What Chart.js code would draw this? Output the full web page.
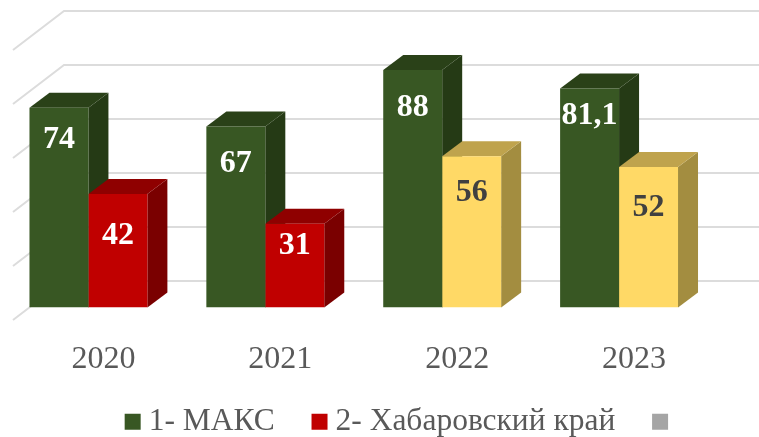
<!DOCTYPE html>
<html>
<head>
<meta charset="utf-8">
<style>
  html, body { margin: 0; padding: 0; background: #fff; }
  canvas { display: block; }
</style>
<script src="https://cdn.jsdelivr.net/npm/chart.js@4"></script>
</head>
<body>
<canvas id="chart" width="759" height="437"></canvas>
<script>
var years = ['2020', '2021', '2022', '2023'];
var maks = [74, 67, 88, 81.1];
var khabarovsk = [42, 31, 56, 52];
var maksName = '1- МАКС';
var khabarovskName = '2- Хабаровский край';

// how far each value label sits below the top of its bar (the source labels were moved by hand)
var maksLabelDrop = [32, 37, 38, 27];
var khabarovskLabelDrop = [42, 22, 36, 41];

var green = { front: '#385723', top: '#2A4118', side: '#253A15' };
var red = { front: '#C00000', top: '#8F0000', side: '#7A0000' };
var yellow = { front: '#FFD966', top: '#BFA34D', side: '#A38D40' };
var maksFaces = [green, green, green, green];
var khabarovskFaces = [red, red, yellow, yellow];

var serif = '"Liberation Serif", "Times New Roman", serif';

// 3d look: back wall lines + bar sides, all taken from the chart's own scales
var box3d = {
    id: 'box3d',
    afterLayout: function (chart) {
        // tick labels hang below the axis box, legend sits lower and further right than its default
        chart.scales.x.bottom = 385;
        chart.legend.top += 10.5;
        chart.legend.left += 50.5;
        chart.legend.right += 50.5;
    },
    beforeDatasetsDraw: function (chart) {
        var ctx = chart.ctx;
        var yScale = chart.scales.y;
        ctx.save();
        ctx.strokeStyle = '#DCDCDC';
        ctx.lineWidth = 2;
        yScale.ticks.forEach(function (tick) {
            var y = yScale.getPixelForValue(tick.value);
            ctx.beginPath();
            ctx.moveTo(13, y + 12.5);
            ctx.lineTo(64, y - 26.5);
            ctx.lineTo(chart.width, y - 26.5);
            ctx.stroke();
        });
        [maksFaces, khabarovskFaces].forEach(function (faces, d) {
            chart.getDatasetMeta(d).data.forEach(function (bar, i) {
                var left = bar.x - bar.width / 2;
                var right = bar.x + bar.width / 2;
                ctx.fillStyle = faces[i].side;
                polygon(ctx, [[right, bar.y], [right + 20, bar.y - 15], [right + 20, bar.base - 15], [right, bar.base]]);
                ctx.fillStyle = faces[i].top;
                polygon(ctx, [[left, bar.y], [left + 20, bar.y - 15], [right + 20, bar.y - 15], [right, bar.y]]);
            });
        });
        ctx.restore();
    },
    afterDatasetsDraw: function (chart) {
        var ctx = chart.ctx;
        ctx.save();
        ctx.font = 'bold 32px ' + serif;
        ctx.textAlign = 'center';
        ctx.textBaseline = 'middle';
        [[maks, maksLabelDrop], [khabarovsk, khabarovskLabelDrop]].forEach(function (set, d) {
            chart.getDatasetMeta(d).data.forEach(function (bar, i) {
                ctx.fillStyle = (d === 1 && khabarovskFaces[i] === yellow) ? '#404040' : '#FFFFFF';
                ctx.fillText(String(set[0][i]).replace('.', ','), bar.x, bar.y + set[1][i]);
            });
        });
        ctx.restore();
    }
};

function polygon(ctx, pts) {
    ctx.beginPath();
    pts.forEach(function (p, i) {
        if (i === 0) { ctx.moveTo(p[0], p[1]); } else { ctx.lineTo(p[0], p[1]); }
    });
    ctx.closePath();
    ctx.fill();
}

var config = {
    type: 'bar',
    data: {
        labels: years,
        datasets: [
            { label: maksName, data: maks, backgroundColor: maksFaces.map(function (f) { return f.front; }) },
            { label: khabarovskName, data: khabarovsk, backgroundColor: khabarovskFaces.map(function (f) { return f.front; }) },
            // the source has a third, unnamed series with no values
            { label: '', data: [], backgroundColor: '#A5A5A5', grouped: false }
        ]
    },
    options: {
        animation: false,
        responsive: false,
        categoryPercentage: 2 / 3,
        barPercentage: 1,
        layout: { padding: { top: 37.5, right: 51.5, left: 0, bottom: 0 } },
        scales: {
            x: {
                grid: { display: false },
                border: { display: false },
                afterFit: function (scale) {
                    scale.height = 129.5 - scale.chart.legend.height;
                },
                ticks: {
                    color: '#595959',
                    font: { family: serif, size: 32 },
                    labelOffset: 15,
                    padding: 25,
                    maxRotation: 0,
                    autoSkip: false
                }
            },
            y: {
                display: false,
                min: 0,
                max: 100,
                ticks: { stepSize: 20 }
            }
        },
        plugins: {
            tooltip: { enabled: false },
            legend: {
                position: 'bottom',
                labels: {
                    color: '#595959',
                    font: { family: serif, size: 31.5 },
                    usePointStyle: true,
                    pointStyle: 'rect',
                    boxWidth: 0.5,
                    boxHeight: 16,
                    padding: 44.5
                }
            }
        }
    },
    plugins: [box3d]
};

new Chart(document.getElementById('chart'), config);
</script>
</body>
</html>
